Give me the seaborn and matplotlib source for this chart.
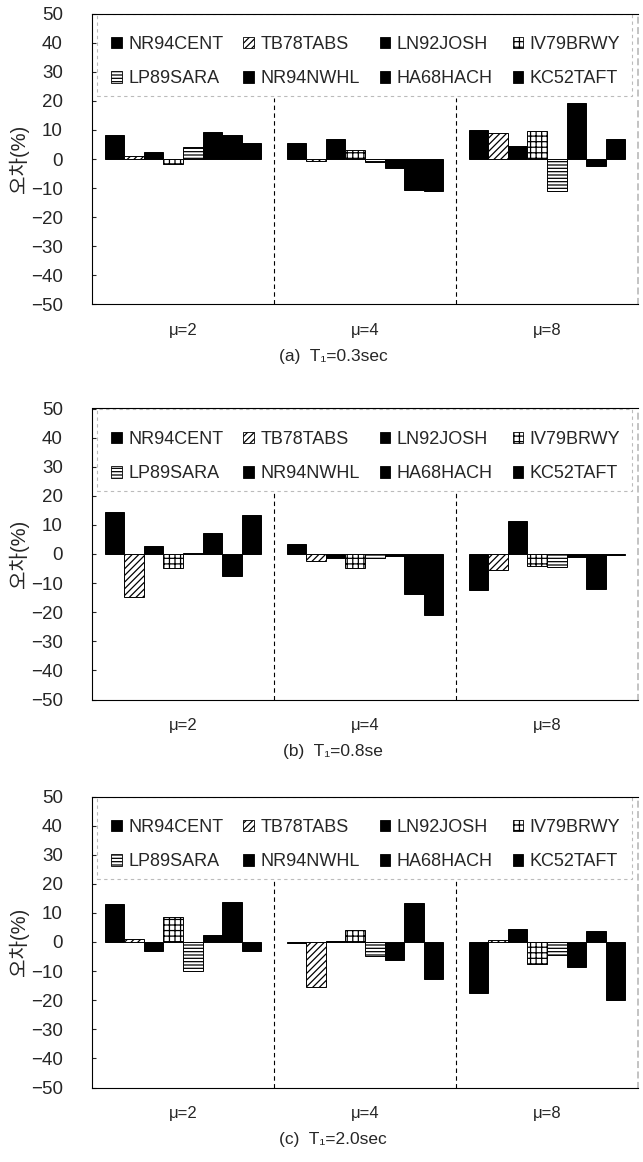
import numpy as np
import pandas as pd
import matplotlib
matplotlib.use("Agg")
import matplotlib.pyplot as plt
from matplotlib.patches import Patch, Rectangle
import seaborn as sns

# ---------------- data ----------------
records = ["NR94CENT", "TB78TABS", "LN92JOSH", "IV79BRWY",
           "LP89SARA", "NR94NWHL", "HA68HACH", "KC52TAFT"]
mu_labels = ["μ=2", "μ=4", "μ=8"]

# T1 = 0.3 sec
err_t03_mu2 = [8.4, 1.0, 2.3, -1.6, 4.0, 9.2, 8.4, 5.5]
err_t03_mu4 = [5.5, -0.8, 6.9, 3.2, -1.0, -3.2, -10.6, -11.1]
err_t03_mu8 = [9.9, 9.0, 4.4, 9.5, -11.1, 19.3, -2.3, 7.0]
# T1 = 0.8 sec
err_t08_mu2 = [14.5, -14.8, 2.6, -4.8, 0.3, 7.2, -7.4, 13.3]
err_t08_mu4 = [3.4, -2.4, -1.5, -4.8, -1.3, -0.8, -13.7, -20.9]
err_t08_mu8 = [-12.5, -5.4, 11.5, -4.0, -4.5, -1.2, -12.1, -0.3]
# T1 = 2.0 sec
err_t20_mu2 = [12.9, 0.9, -3.1, 8.6, -10.1, 2.5, 13.8, -3.1]
err_t20_mu4 = [-0.5, -15.4, 0.3, 4.0, -4.8, -6.2, 13.3, -12.6]
err_t20_mu8 = [-17.5, 0.7, 4.4, -7.7, -4.3, -8.6, 3.8, -20.0]

captions = ["(a)  T₁=0.3sec", "(b)  T₁=0.8se", "(c)  T₁=2.0sec"]
y_label = "오차(%)"

# ---------------- style ----------------
face = ["black", "white", "black", "white", "white", "black", "black", "black"]
hatch = [None, "/////", None, "+++", "-----", None, None, None]

sns.set_theme(style="white")
plt.rcParams["font.family"] = ["Liberation Sans", "Noto Sans CJK KR", "DejaVu Sans"]
plt.rcParams["hatch.linewidth"] = 0.9
plt.rcParams["hatch.color"] = "black"

W, H = 643, 1162
fig = plt.figure(figsize=(W / 100, H / 100), dpi=100)

panels = [
    ([err_t03_mu2, err_t03_mu4, err_t03_mu8], captions[0], 13.5),
    ([err_t08_mu2, err_t08_mu4, err_t08_mu8], captions[1], 408.5),
    ([err_t20_mu2, err_t20_mu4, err_t20_mu8], captions[2], 796.5),
]
left_px, right_px, h_px = 92, 638, 291
ax_w = right_px - left_px

for data, caption, top in panels:
    ax = fig.add_axes([left_px / W, 1 - (top + h_px) / H, ax_w / W, h_px / H])
    df = pd.DataFrame({
        "mu": np.repeat(mu_labels, len(records)),
        "record": records * len(mu_labels),
        "err": np.concatenate(data),
    })
    sns.barplot(data=df, x="mu", y="err", hue="record", order=mu_labels,
                hue_order=records, palette=["black"] * len(records),
                width=0.86, gap=0, edgecolor="black", linewidth=0.7,
                errorbar=None, legend=False, ax=ax)
    for i, cont in enumerate(ax.containers):
        for bar in cont:
            bar.set_facecolor(face[i])
            if hatch[i]:
                bar.set_hatch(hatch[i])

    ax.vlines([0.5, 1.5], -50, 21, colors="black", linewidth=0.8,
              linestyles=(0, (4, 3)), zorder=0.5)

    ax.set_ylim(-50, 50)
    ax.set_xlim(-0.5, 2.5)
    ax.set_yticks(np.arange(-50, 51, 10))
    ax.tick_params(axis="y", left=True, direction="in", length=3,
                   width=0.8, pad=21, labelsize=13.5)
    ax.tick_params(axis="x", bottom=False, length=0, pad=13, labelsize=12)
    ax.set_xlabel("")
    ax.set_ylabel(y_label, fontsize=14.5, labelpad=1)
    for s in ["left", "top", "bottom"]:
        ax.spines[s].set_color("black")
        ax.spines[s].set_linewidth(0.8)
    ax.spines["right"].set_color("#bbbbbb")
    ax.spines["right"].set_linestyle((0, (3, 3)))

    # legend frame (dashed light box)
    ax.add_patch(Rectangle(((97 - left_px) / ax_w, 1 - 82.5 / h_px),
                           (632 - 97) / ax_w, 82.5 / h_px,
                           transform=ax.transAxes, fill=False,
                           edgecolor="#bbbbbb", linewidth=0.8,
                           linestyle=(0, (3, 3)), zorder=1))

    handles = [Patch(facecolor=face[i], edgecolor="black",
                     hatch=hatch[i], linewidth=0.6) for i in range(len(records))]
    order = [0, 4, 1, 5, 2, 6, 3, 7]
    ax.legend([handles[k] for k in order], [records[k] for k in order],
              ncol=4, loc="upper left",
              bbox_to_anchor=((111 - left_px) / ax_w, 1 - 22.5 / h_px),
              fontsize=13, handlelength=0.6, handleheight=0.6,
              handletextpad=0.35, labelspacing=0.95, columnspacing=1.1,
              borderaxespad=0, borderpad=0, frameon=False)

    fig.text(333 / W, 1 - (top + h_px + 52) / H, caption,
             ha="center", va="center", fontsize=12.5)

fig.savefig("out.png", dpi=100)
